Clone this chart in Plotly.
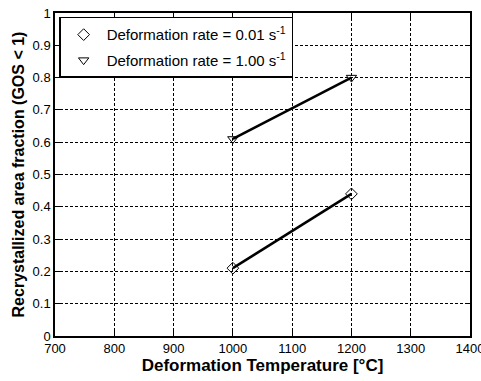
import plotly.graph_objects as go

temps = [1000, 1200]
frac_001 = [0.21, 0.44]
frac_100 = [0.61, 0.80]
x_ticks = [700, 800, 900, 1000, 1100, 1200, 1300, 1400]
y_ticks = [0, 0.1, 0.2, 0.3, 0.4, 0.5, 0.6, 0.7, 0.8, 0.9, 1]
y_tick_labels = ["0", "0.1", "0.2", "0.3", "0.4", "0.5", "0.6", "0.7", "0.8", "0.9", "1"]
name_001 = "Deformation rate = 0.01 s<sup>-1</sup>"
name_100 = "Deformation rate = 1.00 s<sup>-1</sup>"

fig = go.Figure()
fig.add_trace(go.Scatter(x=temps, y=frac_001, mode="lines", line=dict(color="black", width=2.5), showlegend=False))
fig.add_trace(go.Scatter(x=temps, y=frac_100, mode="lines", line=dict(color="black", width=2.5), showlegend=False))
fig.add_trace(go.Scatter(x=temps, y=frac_001, mode="markers", name=name_001, legendgroup="a",
                         marker=dict(symbol="diamond-open", size=9, color="black", line=dict(width=1))))
fig.add_trace(go.Scatter(x=temps, y=frac_100, mode="markers", name=name_100, legendgroup="b",
                         marker=dict(symbol="triangle-down-open", size=9, color="black", line=dict(width=1))))

axis_common = dict(
    showline=True, linecolor="black", linewidth=1.5, mirror="allticks",
    ticks="inside", ticklen=5, tickcolor="black", tickwidth=1,
    showgrid=True, gridcolor="black", gridwidth=1, griddash="3px,2px",
    zeroline=False, automargin=False, ticklabeloverflow="allow",
    tickfont=dict(family="Liberation Sans, Arial", size=13, color="black"),
)

fig.update_xaxes(range=[700, 1400], tickvals=x_ticks, ticktext=[str(v) for v in x_ticks],
                 title=dict(text="<b>Deformation Temperature [°C]</b>", standoff=4,
                            font=dict(family="Liberation Sans, Arial", size=17, color="black")),
                 **axis_common)
fig.update_yaxes(range=[0, 1], tickvals=y_ticks, ticktext=y_tick_labels,
                 title=dict(text="<b>Recrystallized area fraction (GOS < 1)</b>", standoff=4,
                            font=dict(family="Liberation Sans, Arial", size=16, color="black")),
                 **axis_common)

fig.update_layout(
    width=481, height=381,
    margin=dict(l=55, r=11, t=13, b=45),
    paper_bgcolor="white", plot_bgcolor="white",
    hovermode=False,
    legend=dict(x=0.01, y=0.988, xanchor="left", yanchor="top",
                traceorder="grouped", tracegroupgap=3, itemwidth=36,
                bgcolor="white", bordercolor="black", borderwidth=1.5,
                font=dict(family="Liberation Sans, Arial", size=15, color="black")),
)

fig.write_html("out.html", config={"displayModeBar": False},
               post_script="document.body.style.margin='0';")
